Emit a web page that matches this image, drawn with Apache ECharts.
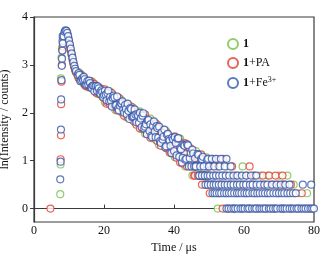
<!DOCTYPE html>
<html>
<head>
<meta charset="utf-8">
<script src="https://cdn.jsdelivr.net/npm/echarts@6/dist/echarts.min.js"></script>
<style>
html, body { margin: 0; padding: 0; background: #fff; }
#chart { width: 334px; height: 255px; }
</style>
</head>
<body>
<div id="chart"></div>
<script>
// 衰减曲线 ln(I) - t, 三组样品
var seriesNames = ['1', '1+PA', '1+Fe3+'];
var seriesColors = ['#76bf45', '#e63b2e', '#3557ad'];
var xTicks = [0, 20, 40, 60, 80];
var yTicks = [0, 1, 2, 3, 4];

// 上升沿 [t, v]
var greenRise = [[7.5, 0.3], [7.6, 0.92], [7.7, 2.72], [7.85, 3.15], [8.0, 3.35]];
var redRise = [[4.7, 0], [7.6, 1.03], [7.7, 1.53], [7.75, 2.18], [7.85, 2.65], [7.95, 3.0], [8.1, 3.3]];
var blueRise = [[7.5, 0.61], [7.6, 0.98], [7.7, 1.65], [7.75, 2.28], [7.85, 2.68], [7.95, 2.98],
    [8.0, 3.13], [8.1, 3.3], [8.15, 3.5], [8.2, 3.6]];

// 衰减段时间 (us)
var decayTimes = [8.25, 8.5, 8.75, 9, 9.25, 9.5, 9.75, 10, 10.25, 10.5, 10.75, 11, 11.25, 11.5, 11.75, 12,
    12.5, 13, 13.5, 14, 14.5, 15, 15.5, 16, 16.5, 17, 17.5, 18, 18.5, 19, 19.5, 20,
    20.5, 21, 21.5, 22, 22.5, 23, 23.5, 24, 24.5, 25, 25.5, 26, 26.5, 27, 27.5, 28, 28.5, 29, 29.5, 30,
    30.5, 31, 31.5, 32, 32.5, 33, 33.5, 34, 34.5, 35, 35.5, 36, 36.5, 37, 37.5, 38, 38.5, 39, 39.5, 40,
    40.5, 41, 41.5, 42, 42.5, 43, 43.5, 44, 44.5, 45, 45.5, 46, 46.5, 47, 47.5, 48, 48.5, 49, 49.5, 50];

var greenDecay = [3.42, 3.58, 3.66, 3.70, 3.68, 3.64, 3.57, 3.47, 3.40, 3.29, 3.20, 3.10, 3.02, 2.95, 2.90, 2.84,
    2.77, 2.77, 2.66, 2.72, 2.65, 2.57, 2.64, 2.64, 2.55, 2.49, 2.57, 2.49, 2.42, 2.46, 2.34, 2.39,
    2.27, 2.37, 2.40, 2.24, 2.16, 2.24, 2.27, 2.11, 2.19, 2.02, 2.18, 2.07, 2.00, 2.11, 1.93, 2.00, 2.00, 1.82, 1.90, 1.96,
    1.71, 1.88, 1.92, 1.69, 1.58, 1.79, 1.68, 1.54, 1.73, 1.42, 1.60, 1.63, 1.46, 1.34, 1.57, 1.45, 1.30, 1.47, 1.20, 1.37,
    1.45, 1.14, 1.27, 0.99, 1.38, 1.21, 0.95, 1.20, 1.00, 1.22, 0.88, 0.99, 1.10, 0.69, 1.11, 0.88, 0.95, 0.69, 0.88, 0.92];

var redDecay = [3.38, 3.55, 3.65, 3.69, 3.70, 3.65, 3.58, 3.50, 3.41, 3.31, 3.22, 3.13, 3.04, 2.96, 2.89, 2.85,
    2.82, 2.71, 2.76, 2.66, 2.59, 2.66, 2.61, 2.54, 2.61, 2.60, 2.48, 2.42, 2.48, 2.48, 2.39, 2.33,
    2.42, 2.22, 2.26, 2.35, 2.28, 2.15, 2.10, 2.22, 2.24, 2.10, 2.02, 2.13, 2.15, 1.97, 2.01, 1.88, 1.98, 1.99, 1.83, 1.83,
    1.93, 1.67, 1.71, 1.88, 1.77, 1.54, 1.78, 1.66, 1.50, 1.65, 1.69, 1.40, 1.45, 1.59, 1.35, 1.57, 1.44, 1.21, 1.42, 1.25,
    1.12, 1.44, 1.14, 1.31, 0.94, 1.18, 1.28, 0.96, 1.27, 0.96, 1.10, 0.69, 1.11, 0.95, 0.69, 0.99, 0.69, 1.01, 0.50, 0.88];

var blueDecay = [3.45, 3.60, 3.69, 3.72, 3.71, 3.67, 3.60, 3.51, 3.43, 3.34, 3.24, 3.15, 3.06, 2.98, 2.92, 2.87,
    2.79, 2.79, 2.68, 2.69, 2.70, 2.59, 2.59, 2.62, 2.52, 2.56, 2.55, 2.46, 2.51, 2.39, 2.43, 2.37,
    2.38, 2.41, 2.24, 2.25, 2.31, 2.32, 2.16, 2.08, 2.15, 2.19, 2.07, 2.16, 1.97, 2.04, 2.10, 1.91, 1.93, 1.96, 1.97, 1.79,
    1.88, 1.94, 1.67, 1.76, 1.84, 1.62, 1.52, 1.72, 1.61, 1.72, 1.48, 1.41, 1.59, 1.50, 1.28, 1.54, 1.45, 1.31, 1.48, 1.20,
    1.37, 1.46, 1.08, 1.24, 1.06, 1.31, 1.04, 1.32, 1.05, 0.88, 1.15, 1.05, 0.88, 1.12, 0.88, 1.03, 0.69, 0.88, 1.02, 0.69];

// 交错通道 (us)
var decayTimes2 = [12.75, 13.25, 13.75, 14.25, 14.75, 15.25, 15.75, 16.25, 16.75, 17.25, 17.75, 18.25, 18.75, 19.25, 19.75,
    20.25, 20.75, 21.25, 21.75, 22.25, 22.75, 23.25, 23.75, 24.25, 24.75, 25.25, 25.75, 26.25, 26.75, 27.25, 27.75, 28.25, 28.75, 29.25, 29.75,
    30.25, 30.75, 31.25, 31.75, 32.25, 32.75, 33.25, 33.75, 34.25, 34.75, 35.25, 35.75, 36.25, 36.75, 37.25, 37.75, 38.25, 38.75, 39.25, 39.75,
    40.25, 40.75, 41.25, 41.75, 42.25, 42.75, 43.25, 43.75, 44.25, 44.75, 45.25, 45.75, 46.25, 46.75, 47.25, 47.75, 48.25, 48.75, 49.25, 49.75];

var greenDecay2 = [2.85, 2.68, 2.78, 2.60, 2.67, 2.54, 2.66, 2.55, 2.64, 2.47, 2.54, 2.39, 2.52, 2.38, 2.45,
    2.22, 2.46, 2.25, 2.44, 2.15, 2.32, 2.06, 2.32, 2.14, 2.28, 1.99, 2.19, 1.91, 2.09, 2.14, 1.89, 2.11, 1.80, 1.97, 1.76,
    2.03, 1.66, 1.91, 1.56, 1.88, 1.63, 1.88, 1.47, 1.68, 1.45, 1.75, 1.33, 1.61, 1.65, 1.30, 1.62, 1.30, 1.51, 1.15, 1.48,
    1.07, 1.46, 1.11, 1.46, 0.98, 1.30, 0.88, 1.31, 0.99, 1.22, 0.69, 1.11, 1.20, 0.69, 1.01, 0.69, 1.06, 0.69, 1.07, 0.50];

var redDecay2 = [2.72, 2.81, 2.66, 2.73, 2.56, 2.67, 2.53, 2.66, 2.51, 2.60, 2.42, 2.50, 2.39, 2.50, 2.32,
    2.49, 2.19, 2.40, 2.17, 2.41, 2.17, 2.32, 2.05, 2.31, 2.04, 2.17, 1.94, 2.18, 1.91, 2.09, 2.13, 1.84, 2.03, 1.75, 2.00,
    1.67, 1.97, 1.67, 1.96, 1.56, 1.81, 1.48, 1.81, 1.56, 1.78, 1.41, 1.65, 1.31, 1.56, 1.63, 1.26, 1.54, 1.17, 1.45, 1.18,
    1.51, 1.06, 1.38, 0.96, 1.36, 1.03, 1.36, 0.88, 1.27, 0.88, 1.11, 0.69, 1.14, 0.99, 0.69, 1.13, 0.69, 1.04, 0.50, 0.94];

var blueDecay2 = [2.83, 2.66, 2.72, 2.75, 2.58, 2.66, 2.67, 2.53, 2.57, 2.45, 2.56, 2.55, 2.42, 2.47, 2.33,
    2.46, 2.26, 2.46, 2.33, 2.13, 2.36, 2.16, 2.34, 2.05, 2.21, 2.24, 2.00, 2.08, 2.19, 1.87, 2.08, 1.92, 2.07, 1.80, 1.94,
    2.00, 1.70, 1.99, 1.71, 1.55, 1.85, 1.76, 1.49, 1.82, 1.49, 1.68, 1.71, 1.37, 1.44, 1.65, 1.30, 1.56, 1.42, 1.16, 1.44,
    1.49, 1.11, 1.47, 1.26, 0.96, 1.33, 1.02, 1.34, 0.88, 1.16, 1.23, 0.88, 0.88, 1.14, 0.69, 1.04, 1.08, 0.69, 0.92, 1.04];

// 尾部离散计数水平
var levels = [0, 0.32, 0.5, 0.69, 0.88, 1.04];

var greenL0 = [52.5, 54.6, 56.8, 58.8, 61.2, 63.4, 65.8, 68.0, 70.5, 72.8, 75.2, 77.4, 79.6];
var greenL1 = [50.6, 53.0, 55.6, 58.3, 61.0, 64.0, 67.0, 70.2, 73.0, 75.8, 78.0];
var greenL2 = [48.6, 51.4, 54.2, 57.4, 60.2, 63.0, 66.0, 68.6, 71.0, 74.2];
var greenL3 = [47.6, 50.0, 53.6, 56.4, 59.0, 62.6, 64.6, 66.8, 70.0, 72.4];
var greenL4 = [46.6, 51.2, 55.0, 59.6];
var greenL5 = [48.2, 52.0];

var redL0 = [53.9, 55.5, 57.3, 59.5, 61.8, 64.0, 66.5, 68.8, 71.2, 73.5, 76.0, 78.5];
var redL1 = [50.2, 52.5, 54.8, 57.6, 60.4, 63.2, 66.4, 69.5, 72.0, 74.6, 76.5];
var redL2 = [48.0, 50.8, 53.2, 56.0, 59.0, 62.2, 65.0, 67.8, 69.6, 71.4, 73.4];
var redL3 = [46.8, 49.2, 51.8, 54.6, 57.8, 60.8, 63.0, 65.4, 67.2, 69.0, 71.0];
var redL4 = [45.8, 49.8, 52.6, 56.6, 61.6];
var redL5 = [47.2, 51.0, 54.0];

var blueL0 = [55.0, 55.6, 56.3, 57.0, 57.5, 58.2, 59.0, 59.6, 60.2, 61.0, 61.5, 62.3, 63.0, 63.5, 64.4, 65.0,
    65.6, 66.2, 67.1, 67.6, 68.3, 69.0, 69.5, 70.4, 71.0, 71.6, 72.2, 73.0, 73.7, 74.3, 75.0, 75.5,
    76.4, 77.0, 77.6, 78.3, 79.0, 79.5, 80.0];
var blueL1 = [51.0, 51.6, 52.2, 52.9, 53.5, 54.3, 55.0, 55.7, 56.4, 57.2, 58.0, 58.6, 59.3, 60.1, 60.8, 61.5,
    62.4, 63.0, 63.8, 64.5, 65.3, 66.0, 66.8, 67.5, 68.4, 69.2, 70.0, 70.8, 71.5, 72.4, 73.2, 74.0, 74.8];
var blueL2 = [49.0, 49.7, 50.5, 51.3, 52.0, 52.8, 53.6, 54.5, 55.3, 56.2, 57.0, 58.0, 58.8, 59.8, 60.6, 61.7,
    62.5, 63.6, 64.6, 65.8, 66.7, 68.0, 69.3, 70.5, 71.8, 73.0, 76.8, 79.2];
var blueL3 = [47.2, 48.0, 48.8, 49.6, 50.3, 51.2, 52.0, 52.9, 53.8, 54.8, 55.8, 57.0, 58.1, 59.4, 60.6, 62.0, 63.5];
var blueL4 = [46.2, 47.5, 48.5, 50.0, 51.5, 53.0, 54.5, 56.2];
var blueL5 = [50.8, 52.0, 53.4, 55.0];

function buildData(rise, decay, decay2, tails) {
    var out = rise.slice();
    var pts = [];
    decayTimes.forEach(function (t, i) { pts.push([t, decay[i]]); });
    decayTimes2.forEach(function (t, i) { pts.push([t, decay2[i]]); });
    pts.sort(function (a, b) { return a[0] - b[0]; });
    out = out.concat(pts);
    tails.forEach(function (ts, k) {
        ts.forEach(function (t) { out.push([t, levels[k]]); });
    });
    return out;
}

var allData = [
    buildData(greenRise, greenDecay, greenDecay2, [greenL0, greenL1, greenL2, greenL3, greenL4, greenL5]),
    buildData(redRise, redDecay, redDecay2, [redL0, redL1, redL2, redL3, redL4, redL5]),
    buildData(blueRise, blueDecay, blueDecay2, [blueL0, blueL1, blueL2, blueL3, blueL4, blueL5])
];

var serif = 'Liberation Serif';
var chart = echarts.init(document.getElementById('chart'));

var option = {
    animation: false,
    backgroundColor: '#fff',
    grid: {
        left: 34, right: 20, top: 17, bottom: 33, outerBoundsMode: 'none',
        show: true, borderColor: '#3a3a3a', borderWidth: 1.2
    },
    legend: {
        orient: 'vertical', left: 222, top: 33, itemGap: 7, itemWidth: 10, itemHeight: 10,
        icon: 'circle',
        textStyle: {
            fontFamily: serif, fontSize: 12, color: '#111',
            rich: {
                b: { fontFamily: serif, fontSize: 12, fontWeight: 'bold', color: '#111' },
                sup: { fontFamily: serif, fontSize: 8, color: '#111', verticalAlign: 'top', padding: [0, 0, 6, 0] }
            }
        },
        formatter: function (name) {
            if (name === '1') return '{b|1}';
            if (name === '1+PA') return '{b|1}+PA';
            return '{b|1}+Fe{sup|3+}';
        },
        data: seriesNames
    },
    xAxis: {
        type: 'value', min: 0, max: 80, interval: 20,
        name: 'Time / μs', nameLocation: 'middle', nameGap: 20,
        nameTextStyle: { fontFamily: serif, fontSize: 12, color: '#111' },
        axisLine: { lineStyle: { color: '#3a3a3a', width: 1.2 } },
        axisTick: { inside: true, length: 4, lineStyle: { color: '#3a3a3a' } },
        axisLabel: { fontFamily: serif, fontSize: 12, color: '#111', margin: 3 },
        splitLine: { show: false }
    },
    yAxis: {
        type: 'value', min: -0.28, max: 4,
        name: 'ln(Intensity / counts)', nameLocation: 'middle', nameGap: 18,
        nameTextStyle: { fontFamily: serif, fontSize: 12, color: '#111' },
        axisLine: { show: true, lineStyle: { color: '#3a3a3a', width: 1.2 } },
        axisTick: { show: true, length: 4, customValues: yTicks, lineStyle: { color: '#3a3a3a' } },
        axisLabel: { fontFamily: serif, fontSize: 12, color: '#111', margin: 6, customValues: yTicks },
        splitLine: { show: false }
    },
    series: allData.map(function (d, i) {
        return {
            name: seriesNames[i],
            type: 'scatter',
            data: d,
            symbol: 'circle',
            symbolSize: 7,
            itemStyle: { color: '#fff', borderColor: seriesColors[i], borderWidth: 1.2 }
        };
    })
};

chart.setOption(option);
</script>
</body>
</html>
